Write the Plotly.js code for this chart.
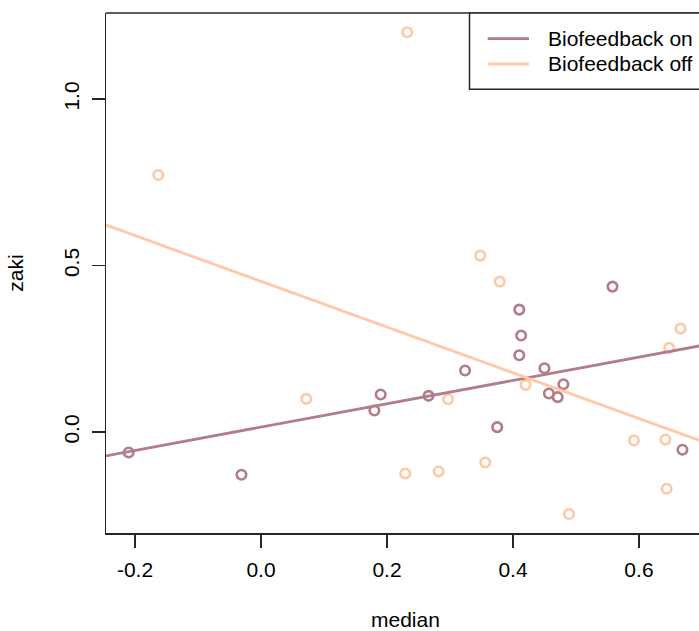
<!DOCTYPE html>
<html>
<head>
<meta charset="utf-8">
<script src="https://cdn.plot.ly/plotly-3.0.1.min.js"></script>
<style>
  html, body { margin: 0; padding: 0; background: #ffffff; overflow: hidden; }
  #chart { width: 699px; height: 631px; }
</style>
</head>
<body>
<div id="chart"></div>
<script>
// ---- Data ----
var onMedian = [-0.210, -0.031, 0.180, 0.190, 0.266, 0.324, 0.375, 0.410, 0.413, 0.410, 0.450, 0.457, 0.471, 0.480, 0.558, 0.669];
var onZaki   = [-0.061, -0.128, 0.065, 0.113, 0.109, 0.185, 0.015, 0.368, 0.290, 0.231, 0.192, 0.116, 0.105, 0.144, 0.437, -0.053];

var offMedian = [-0.163, 0.072, 0.229, 0.232, 0.282, 0.297, 0.348, 0.356, 0.379, 0.420, 0.489, 0.592, 0.642, 0.644, 0.648, 0.666];
var offZaki   = [0.772, 0.100, -0.124, 1.201, -0.118, 0.099, 0.530, -0.091, 0.452, 0.142, -0.246, -0.025, -0.022, -0.170, 0.253, 0.311];

// fitted lines (end points)
var fitX    = [-0.30, 0.75];
var onFitY  = [-0.090, 0.278];
var offFitY = [0.659, -0.062];

var seriesNames = ["Biofeedback on", "Biofeedback off"];
var xTitle = "median";
var yTitle = "zaki";
var xTickVals = [-0.2, 0.0, 0.2, 0.4, 0.6];
var xTickText = ["-0.2", "0.0", "0.2", "0.4", "0.6"];
var yTickVals = [0.0, 0.5, 1.0];
var yTickText = ["0.0", "0.5", "1.0"];

// ---- Styles ----
var colOn = "#b27d89";
var colOff = "#ffc8a9";
var FONT = "Liberation Sans, Arial, Helvetica, sans-serif";
var FS = 21;

var W = 699, H = 631;
var M = {l: 106, r: 0, t: 13, b: 98};
function px2x(px) { return (px - M.l) / (W - M.l - M.r); }
function px2y(py) { return (H - M.b - py) / (H - M.t - M.b); }

var traces = [
  {x: onMedian, y: onZaki, type: "scatter", mode: "markers", name: seriesNames[0], showlegend: false,
   marker: {symbol: "circle-open", size: 9.5, color: colOn, line: {width: 2.6, color: colOn}}, cliponaxis: false},
  {x: offMedian, y: offZaki, type: "scatter", mode: "markers", name: seriesNames[1], showlegend: false,
   marker: {symbol: "circle-open", size: 9.5, color: colOff, line: {width: 2.6, color: colOff}}, cliponaxis: false},
  {x: fitX, y: onFitY, type: "scatter", mode: "lines", name: seriesNames[0], showlegend: false,
   line: {color: colOn, width: 2.8}},
  {x: fitX, y: offFitY, type: "scatter", mode: "lines", name: seriesNames[1], showlegend: false,
   line: {color: colOff, width: 2.8}}
];

var axisCol = "#262626";
var layout = {
  width: W, height: H,
  margin: M,
  paper_bgcolor: "#ffffff", plot_bgcolor: "#ffffff",
  font: {family: FONT, size: FS, color: "#000000"},
  showlegend: false,
  xaxis: {
    range: [-0.2460, 0.6953], autorange: false,
    showgrid: false, zeroline: false,
    showline: true, linecolor: axisCol, linewidth: 1.5,
    ticks: "outside", ticklen: 13, tickwidth: 1.5, tickcolor: axisCol,
    tickmode: "array", tickvals: xTickVals, ticktext: xTickText,
    tickfont: {family: FONT, size: FS, color: "#000"},
    ticklabelstandoff: 4
  },
  yaxis: {
    range: [-0.3029, 1.2587], autorange: false,
    showgrid: false, zeroline: false,
    showline: true, linecolor: axisCol, linewidth: 1.5,
    ticks: "outside", ticklen: 13, tickwidth: 1.5, tickcolor: axisCol,
    tickmode: "array", tickvals: yTickVals, ticktext: yTickText,
    tickangle: -90,
    tickfont: {family: FONT, size: FS, color: "#000"},
    ticklabelstandoff: 4,
    title: {text: yTitle, font: {family: FONT, size: FS, color: "#000"}, standoff: 30}
  },
  shapes: [
    // top border of plot box
    {type: "line", xref: "paper", yref: "paper", x0: 0, x1: 1.05, y0: 1, y1: 1,
     line: {color: axisCol, width: 1.5}},
    // legend box
    {type: "rect", xref: "paper", yref: "paper", x0: px2x(469.5), x1: 1.2, y0: px2y(89.3), y1: 1,
     line: {color: axisCol, width: 1.5}, fillcolor: "#ffffff", layer: "above"},
    {type: "line", xref: "paper", yref: "paper", x0: px2x(487.7), x1: px2x(529), y0: px2y(38.7), y1: px2y(38.7),
     line: {color: colOn, width: 2.8}},
    {type: "line", xref: "paper", yref: "paper", x0: px2x(487.7), x1: px2x(529), y0: px2y(64), y1: px2y(64),
     line: {color: colOff, width: 2.8}}
  ],
  annotations: [
    // x axis title
    {xref: "paper", yref: "paper", x: px2x(405.5), y: px2y(619), xanchor: "center", yanchor: "middle",
     text: xTitle, showarrow: false, font: {family: FONT, size: FS, color: "#000"}},
    // legend labels
    {xref: "paper", yref: "paper", x: px2x(546), y: px2y(38.7), xanchor: "left", yanchor: "middle",
     text: seriesNames[0], showarrow: false, font: {family: FONT, size: 21, color: "#000"}},
    {xref: "paper", yref: "paper", x: px2x(546), y: px2y(64), xanchor: "left", yanchor: "middle",
     text: seriesNames[1], showarrow: false, font: {family: FONT, size: 21, color: "#000"}}
  ]
};

Plotly.newPlot("chart", traces, layout, {staticPlot: true, displayModeBar: false});
</script>
</body>
</html>
